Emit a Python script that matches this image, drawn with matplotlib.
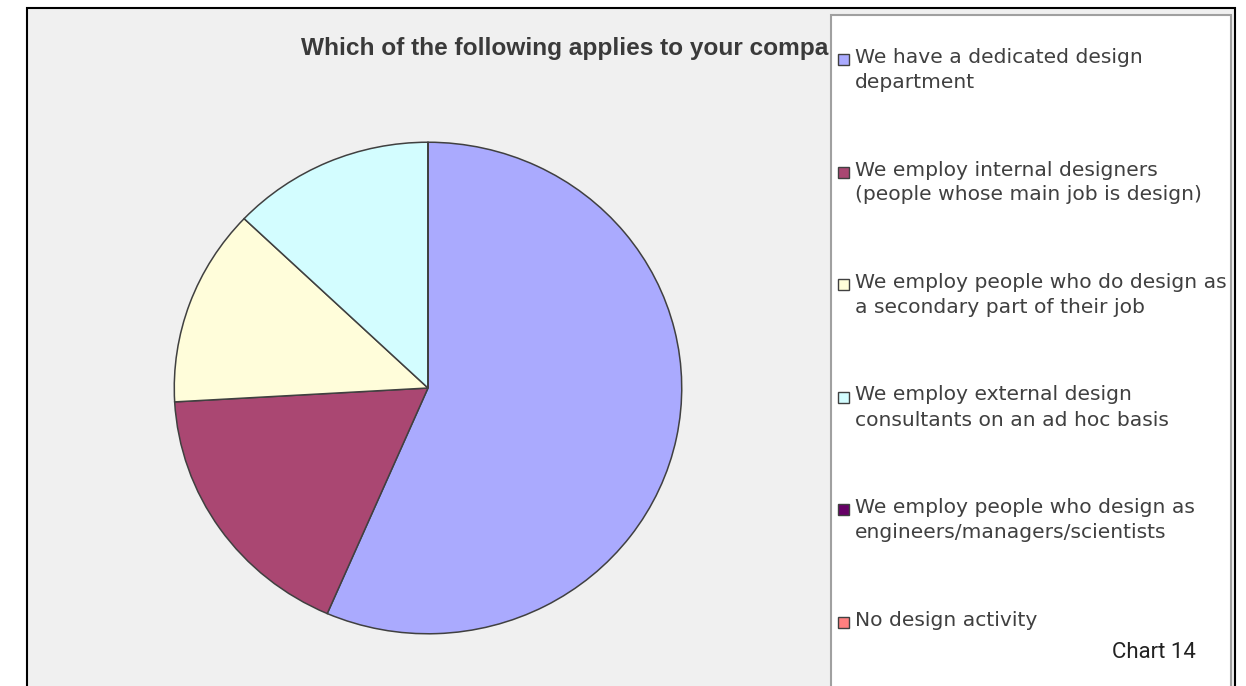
import matplotlib.pyplot as plt
from matplotlib.patches import Rectangle

# survey answers (share of respondents, %)
labels = [
    "We have a dedicated design\ndepartment",
    "We employ internal designers\n(people whose main job is design)",
    "We employ people who do design as\na secondary part of their job",
    "We employ external design\nconsultants on an ad hoc basis",
    "We employ people who design as\nengineers/managers/scientists",
    "No design activity",
]
shares = [56.5, 17.6, 13.0, 12.9, 0.0, 0.0]
colors = ["#AAAAFE", "#AA4772", "#FFFDDA", "#D3FDFF", "#660066", "#FF8080"]

title = "Which of the following applies to your company?"

W, H = 1246, 686
fig = plt.figure(figsize=(W / 100, H / 100), dpi=100, facecolor="white")


def fx(x):
    return x / W


def fy(y):
    return 1 - y / H


# outer chart frame and grey plot area
fig.patches.append(Rectangle((fx(27), fy(700)), fx(1235 - 27), (700 - 8) / H,
                             transform=fig.transFigure, facecolor="#F0F0F0",
                             edgecolor="black", linewidth=1.5, zorder=0))

# title runs on under the legend panel
fig.text(fx(301), fy(48), title, ha="left", va="center", fontsize=17.6,
         fontweight="bold", color="#3A3A3A", family="Liberation Sans",
         zorder=1)

# pie
ax = fig.add_axes([fx(173), fy(635), fx(683 - 173), (635 - 141) / H])
ax.set_zorder(1)
wedges, _ = ax.pie(shares, colors=colors, startangle=90, counterclock=False,
                   radius=1, wedgeprops=dict(edgecolor="#404040", linewidth=1.1))
ax.set_aspect("auto")
ax.set_xlim(-1.005, 1.005)
ax.set_ylim(-1.005, 1.005)
ax.axis("off")

# legend panel
fig.patches.append(Rectangle((fx(831), fy(700)), fx(1231 - 831), (700 - 15) / H,
                             transform=fig.transFigure, facecolor="white",
                             edgecolor="#A0A0A0", linewidth=1.5, zorder=2))

for i, (lab, col) in enumerate(zip(labels, colors)):
    y0 = 58 + i * 112.5
    fig.patches.append(Rectangle((fx(838), fy(y0 + 7)), fx(11), 11 / H,
                                 transform=fig.transFigure, facecolor=col,
                                 edgecolor="#404040", linewidth=1.0, zorder=3))
    fig.text(fx(855), fy(y0 - 10), lab, ha="left", va="top", fontsize=14.6,
             color="#404040", family="DejaVu Sans", linespacing=1.4, zorder=3)

fig.text(fx(1196), fy(652), "Chart 14", ha="right", va="center", fontsize=16,
         color="#222222", family="Roboto", zorder=3)

fig.savefig("out.png", dpi=100)
